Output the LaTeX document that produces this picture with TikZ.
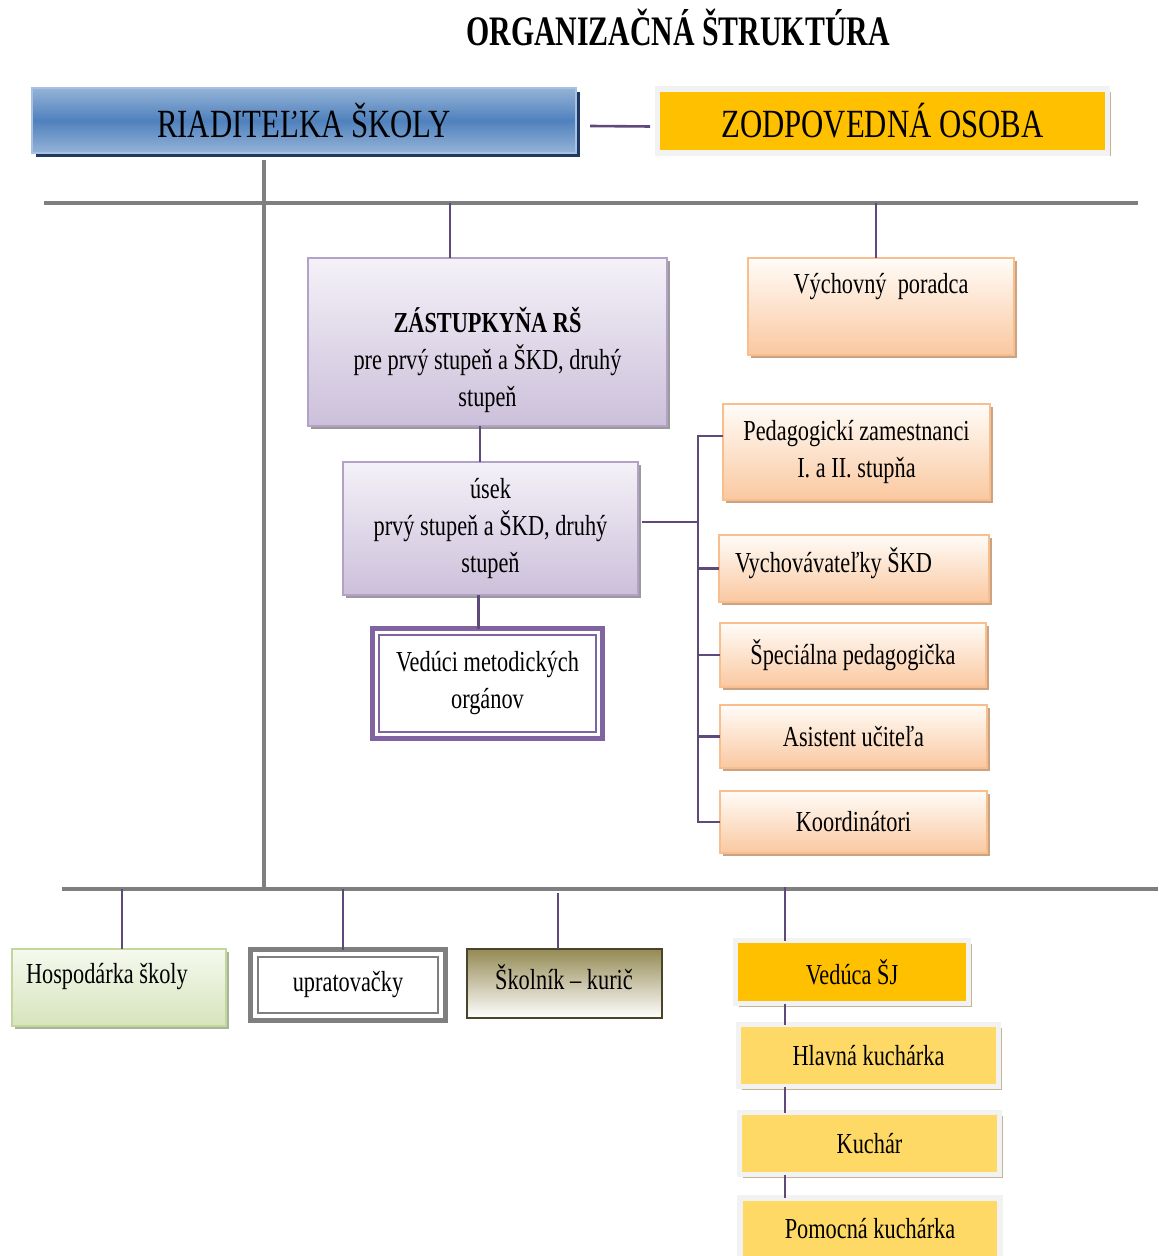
\documentclass[tikz,border=0pt]{standalone}
\usepackage{fontspec}
\setmainfont[FakeStretch=0.77]{Liberation Serif}
\newfontfamily\titlefont[FakeStretch=0.71]{Liberation Serif}
\usetikzlibrary{positioning,shadows}

\definecolor{busgray}{HTML}{7F7F7F}
\definecolor{linkpurple}{HTML}{5F497A}
\definecolor{riadlight}{HTML}{95B3D7}
\definecolor{riaddark}{HTML}{4F81BD}
\definecolor{riadedge}{HTML}{A9C1E0}
\definecolor{riadshadow}{HTML}{1F3864}
\definecolor{goldfill}{HTML}{FFC000}
\definecolor{lightgold}{HTML}{FFD966}
\definecolor{framegray}{HTML}{F2F2F2}
\definecolor{tanshadow}{HTML}{C4B592}
\definecolor{lavtop}{HTML}{F4F1F8}
\definecolor{lavbottom}{HTML}{CCC0DA}
\definecolor{lavedge}{HTML}{B3A2C7}
\definecolor{lavshadow}{HTML}{9A9A9A}
\definecolor{peachtop}{HTML}{FFFCF8}
\definecolor{peachbottom}{HTML}{FAC8A0}
\definecolor{peachedge}{HTML}{F8BE8E}
\definecolor{peachshadow}{HTML}{C9A384}
\definecolor{greentop}{HTML}{F5F9EE}
\definecolor{greenbottom}{HTML}{D7E4BC}
\definecolor{greenedge}{HTML}{C3D69B}
\definecolor{greenshadow}{HTML}{A9B49A}
\definecolor{olivetop}{HTML}{948A54}
\definecolor{oliveedge}{HTML}{4A442A}
\definecolor{metpurple}{HTML}{8064A2}

\begin{document}
\begin{tikzpicture}[x=0.5pt,y=-0.5pt,
  every node/.style={inner sep=0pt,outer sep=0pt},
  body/.style={font=\fontsize{14.5}{18.5}\selectfont,align=center},
  big/.style={font=\fontsize{20}{24}\selectfont},
  bus/.style={draw=busgray,line width=2.3pt},
  link/.style={draw=linkpurple,line width=1.3pt},
  wh/.style 2 args={minimum width=#1,minimum height=#2},
  headbox/.style={draw=riadedge,line width=0.8pt,top color=riadlight,bottom color=riadlight,middle color=riaddark,
    drop shadow={shadow xshift=2pt,shadow yshift=-2pt,fill=riadshadow,opacity=1}},
  goldbox/.style={draw=framegray,line width=2.6pt,fill=#1,
    drop shadow={shadow xshift=1.5pt,shadow yshift=-1.5pt,fill=tanshadow,opacity=1}},
  lavbox/.style={draw=lavedge,line width=0.8pt,top color=lavtop,bottom color=lavbottom,
    drop shadow={shadow xshift=1.5pt,shadow yshift=-1.5pt,fill=lavshadow,opacity=1}},
  peachbox/.style={draw=peachedge,line width=0.8pt,top color=peachtop,bottom color=peachbottom,
    drop shadow={shadow xshift=1.5pt,shadow yshift=-1.5pt,fill=peachshadow,opacity=1}},
  greenbox/.style={draw=greenedge,line width=0.8pt,top color=greentop,bottom color=greenbottom,
    drop shadow={shadow xshift=1.5pt,shadow yshift=-1.5pt,fill=greenshadow,opacity=1}},
  olivebox/.style={draw=oliveedge,line width=0.6pt,top color=olivetop,bottom color=white},
  dblbox/.style={draw=#1,line width=2.6pt,fill=white}
]
\useasboundingbox (0,0) rectangle (1158,1256);

% Title
\node[font=\fontsize{21}{25}\titlefont\bfseries] (title) at (678,27) {ORGANIZAČNÁ ŠTRUKTÚRA};

% Head row
\node[headbox,wh={272pt}{32.5pt},big] (riad) at (304,120.5) {RIADITEĽKA ŠKOLY};
\node[goldbox=goldfill,wh={225pt}{32pt},big] (zod) at (882.5,121) {ZODPOVEDNÁ OSOBA};
\draw[link] ([xshift=7pt,yshift=-2.75pt]riad.east) -- ([xshift=-3.75pt,yshift=-2.75pt]zod.west);

% Buses
\coordinate (trunk) at (264,160);
\coordinate (busTw) at (44,203);
\coordinate (busTe) at (1138,203);
\coordinate (busBw) at (62,889);
\coordinate (busBe) at (1158,889);
\draw[bus] (busTw) -- (busTe);
\draw[bus] (busBw) -- (busBe);
\draw[bus] (trunk) -- (trunk |- busBw);

% Deputy branch
\node[lavbox,wh={179.5pt}{84pt}] (zast) at (487.5,342) {};
\node[body] (zastT) at (487.5,360) {\textbf{ZÁSTUPKYŇA RŠ}\\pre prvý stupeň a ŠKD, druhý\\stupeň};
\node[peachbox,wh={133pt}{48.5pt}] (vp) at (881,306.5) {};
\node[body] (vpT) at (881,287) {Výchovný~ poradca};
\coordinate (dZ) at (450,203);
\coordinate (dV) at (876,203);
\draw[link] (dZ) -- (dZ |- zast.north);
\draw[link] (dV) -- (dV |- vp.north);

\node[lavbox,wh={147.5pt}{66.5pt},body] (usek) at (490.5,528.5) {úsek\\prvý stupeň a ŠKD, druhý\\stupeň};
\draw[link] ([xshift=-3.75pt]zast.south) -- ([xshift=-3.75pt]zast.south |- usek.north);

\node[dblbox=metpurple,wh={115pt}{55pt},body] (ved) at (487.5,683.5) {Vedúci metodických\\orgánov};
\draw[metpurple,line width=0.9pt] ([xshift=3.2pt,yshift=-3.2pt]ved.north west) rectangle ([xshift=-3.2pt,yshift=3.2pt]ved.south east);
\draw[link] ([xshift=-6pt]usek.south) -- ([xshift=-6pt]usek.south |- ved.north);

% Staff column
\node[peachbox,wh={133.5pt}{48pt},body] (ped) at (856.5,452) {Pedagogickí zamestnanci\\I. a II. stupňa};
\node[peachbox,wh={135pt}{33.5pt}] (vych) at (854,568.5) {};
\node[body,anchor=west] (vychT) at (735,563) {Vychovávateľky ŠKD};
\node[peachbox,wh={133pt}{32pt},body] (spec) at (853,655) {Špeciálna pedagogička};
\node[peachbox,wh={133.5pt}{31.5pt},body] (asist) at (853.5,736.5) {Asistent učiteľa};
\node[peachbox,wh={133.5pt}{31pt},body] (koord) at (853.5,822) {Koordinátori};

\coordinate (brx) at (698,0);
\draw[link] ([yshift=8pt]ped.west) -- ([yshift=8pt]ped.west -| brx) -- (koord.west -| brx) -- (koord.west);
\foreach \n in {vych,spec,asist}
  \draw[link] (\n.west -| brx) -- (\n.west);
\draw[link] ([xshift=2pt,yshift=3.25pt]usek.east) coordinate (uE) -- (uE -| brx);

% Bottom row
\node[greenbox,wh={107pt}{38.5pt}] (hosp) at (119,987.5) {};
\node[body,anchor=west] (hospT) at (26,977) {Hospodárka školy};
\node[dblbox=busgray,wh={97.5pt}{35.5pt},body] (uprat) at (348,985) {upratovačky};
\draw[busgray,line width=0.9pt] ([xshift=3.6pt,yshift=-3.6pt]uprat.north west) rectangle ([xshift=-3.6pt,yshift=3.6pt]uprat.south east);
\node[olivebox,wh={97.5pt}{34.5pt}] (skol) at (564.5,983.5) {};
\node[body] (skolT) at (564,977) {Školník – kurič};

\coordinate (dH) at (122,889);
\coordinate (dU) at (343,889);
\coordinate (dK) at (558,893);
\coordinate (dS) at (785,887);
\draw[link] (dH) -- (dH |- hosp.north);
\draw[link] (dU) -- (dU |- uprat.north);
\draw[link] (dK) -- (dK |- skol.north);

% Kitchen
\node[goldbox=goldfill,wh={116.5pt}{31.5pt},body] (vsj) at (852,972) {Vedúca ŠJ};
\node[goldbox=lightgold,wh={130pt}{31pt},body] (hk) at (868.5,1055.5) {Hlavná kuchárka};
\node[goldbox=lightgold,wh={130pt}{31pt},body] (kuch) at (869.5,1143.5) {Kuchár};
\node[goldbox=lightgold,wh={130pt}{31pt},body] (pom) at (870,1229) {Pomocná kuchárka};
\draw[link] (dS) -- (dS |- vsj.north);
\draw[link] (vsj.south -| dS) -- (hk.north -| dS);
\draw[link] (hk.south -| dS) -- (kuch.north -| dS);
\draw[link] (kuch.south -| dS) -- (pom.north -| dS);
\end{tikzpicture}
\end{document}
